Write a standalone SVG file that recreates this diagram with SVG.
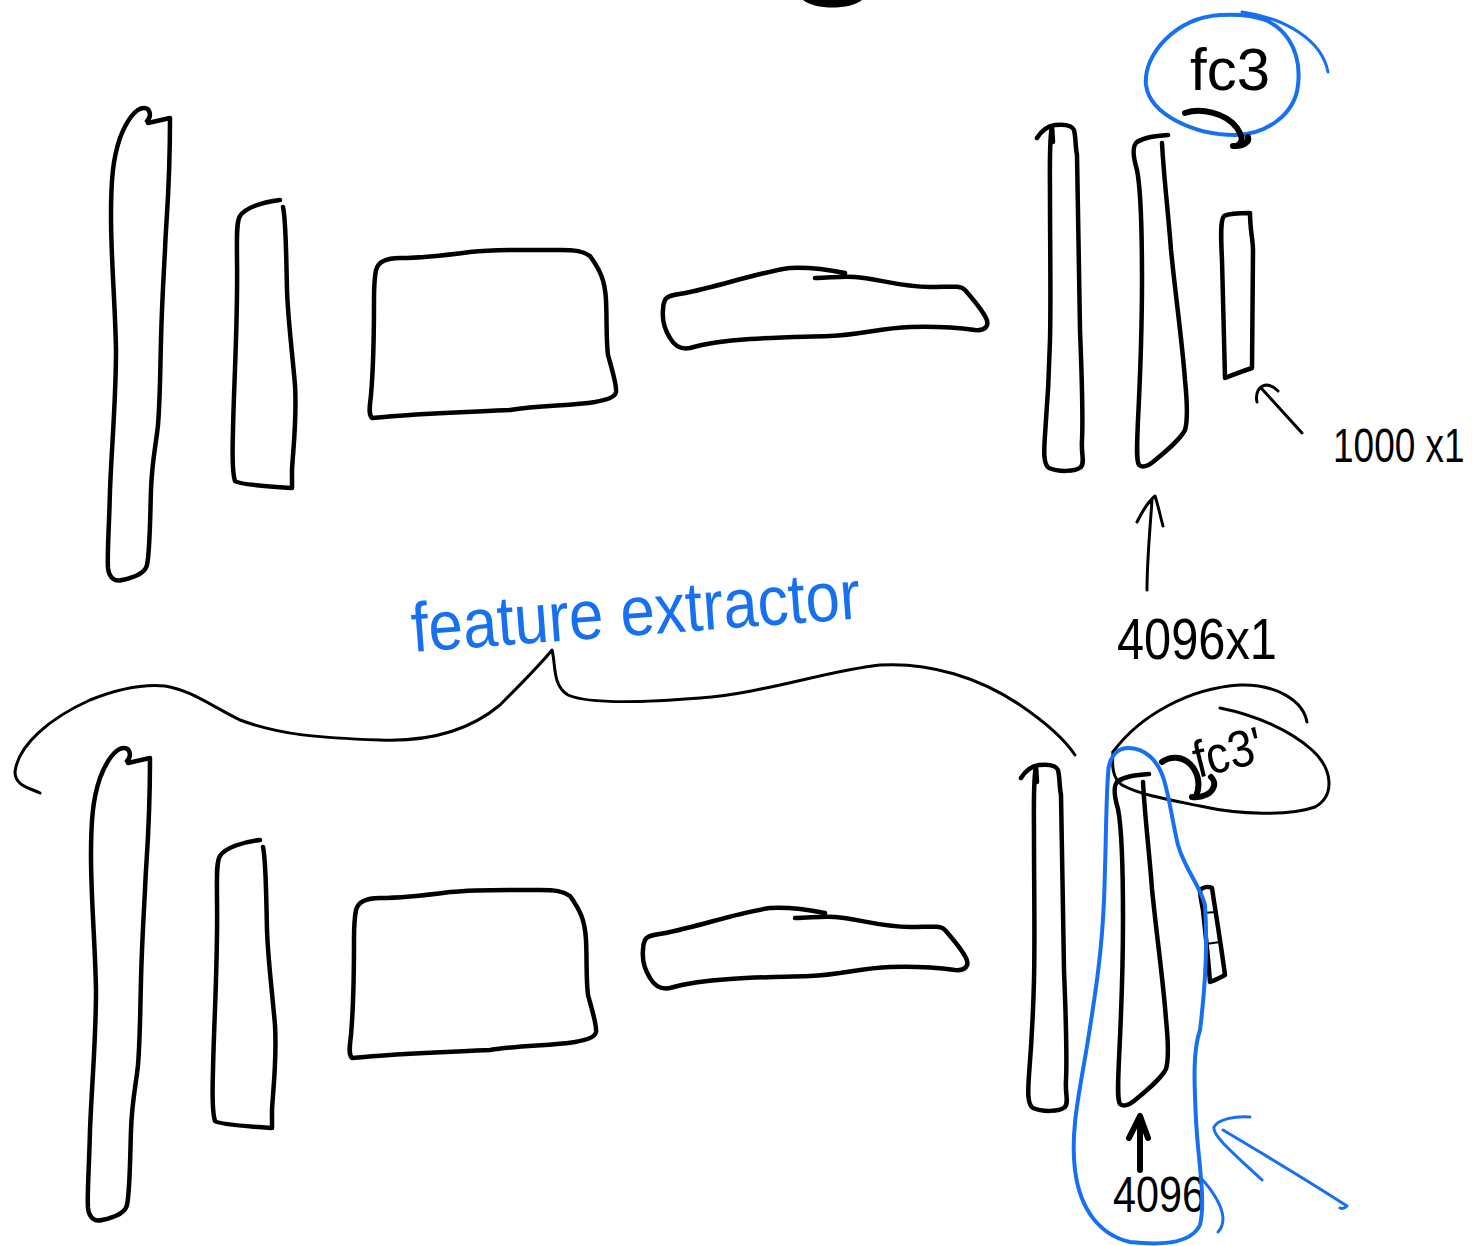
<svg xmlns="http://www.w3.org/2000/svg" width="1474" height="1246" viewBox="0 0 1474 1246">
<style>
.ink{fill:none;stroke:#000;stroke-width:4.5;stroke-linecap:round;stroke-linejoin:round}
.thin{fill:none;stroke:#000;stroke-width:3;stroke-linecap:round;stroke-linejoin:round}
.heavy{fill:none;stroke:#000;stroke-width:6;stroke-linecap:round;stroke-linejoin:round}
.blue{fill:none;stroke:#1670f0;stroke-width:3;stroke-linecap:round;stroke-linejoin:round}
.blueh{fill:none;stroke:#1670f0;stroke-width:4;stroke-linecap:round;stroke-linejoin:round}
.lbl{font-family:"Liberation Sans",Arial,sans-serif;fill:#000}
.blbl{font-family:"Liberation Sans",Arial,sans-serif;fill:#1670f0}
</style>
<rect width="1474" height="1246" fill="#fff"/>
<path d="M 803,0 C 815,10 850,10 862,0 Z" fill="#000"/>

<g id="top-row">
  <g id="t-block1"><path class="ink" d="M 147,121 C 152,116 150,108 144,108 C 135,108 126,122 120,138 C 113,158 111,180 111,215 C 111,260 115,300 116,350 C 116,400 112,440 110,490 C 109,530 107,555 108,568 C 109,578 115,582 122,580 C 132,578 145,574 147,565 C 150,550 150,520 151,490 C 152,460 156,445 158,425 C 160,400 160,380 161,340 C 162,300 164,270 165,250 C 166,220 170,190 170,118 L 148,123"/></g>
  <g id="t-block2"><path class="ink" d="M 280,200 C 262,202 245,208 240,216 C 236,222 237,240 237,260 C 238,320 234,380 233,430 C 232,460 233,475 235,481 C 238,484 260,486 291,488 M 283,207 C 286,220 286,250 287,290 C 288,320 292,350 295,385 C 297,420 293,450 292,470 L 292,488"/></g>
  <g id="t-block3"><path class="ink" d="M 376,270 C 378,262 385,258 400,258 C 420,258 440,256 470,252 C 500,249 540,250 560,250 C 575,250 583,251 590,256 C 600,270 605,280 606,300 C 607,320 606,340 608,355 C 612,370 617,385 616,392 C 615,398 605,400 595,402 C 570,406 540,405 510,410 C 470,412 420,413 372,418 C 368,414 370,405 371,395 C 374,360 374,330 374,300 C 374,285 375,275 376,270 Z"/></g>
  <g id="t-block4"><path class="ink" d="M 665,300 C 668,294 678,295 690,292 C 720,286 760,272 790,268 C 810,267 830,270 845,273 M 815,278 C 830,278 840,276 855,277 C 875,278 900,287 930,287 C 950,287 960,285 965,290 C 972,298 982,310 986,318 C 990,326 985,331 975,330 C 960,328 940,326 910,327 C 880,328 860,335 830,336 C 800,337 780,337 750,339 C 720,341 700,345 690,348 C 680,350 674,345 670,338 C 665,330 662,320 663,310 C 663,305 664,302 665,300"/></g>
  <g id="t-block5"><path class="ink" d="M 1037,138 C 1042,130 1048,126 1055,125 C 1065,124 1072,125 1074,130 C 1076,138 1075,145 1077,155 C 1078,200 1079,280 1080,330 C 1082,380 1083,420 1082,440 C 1081,455 1085,462 1081,467 C 1075,472 1058,472 1049,468 C 1043,464 1044,450 1045,435 C 1047,410 1049,380 1050,340 C 1051,300 1050,240 1050,200 C 1050,170 1049,140 1052,126 L 1053,142"/></g>
  <g id="t-block6"><path class="ink" d="M 1168,135 C 1155,136 1145,137 1137,142 C 1131,147 1134,160 1137,170 C 1141,190 1142,230 1142,280 C 1142,330 1140,380 1138,420 C 1137,445 1136,460 1139,465 C 1142,468 1148,466 1153,462 C 1165,452 1180,440 1185,430 C 1188,420 1187,400 1185,380 C 1182,340 1176,300 1171,250 C 1168,210 1164,180 1162,143"/></g>
  <g id="t-block7"><path class="ink" d="M 1250,213 C 1240,213 1230,213 1224,216 C 1220,220 1221,240 1222,260 C 1223,300 1224,340 1225,378 C 1230,376 1240,372 1252,368 L 1253,250 C 1253,240 1250,230 1250,213"/></g>
  <g id="t-fc3">
    <path class="blueh" d="M 1250,15 C 1285,22 1302,50 1298,85 C 1295,115 1265,135 1235,135 C 1195,135 1150,115 1146,85 C 1143,55 1175,18 1220,15 C 1240,14 1255,16 1265,20"/>
    <path class="blue" d="M 1242,12 C 1285,18 1322,40 1328,72"/>
    <text class="lbl" x="1190" y="90" font-size="60" textLength="80" lengthAdjust="spacingAndGlyphs">fc3</text>
    <path class="heavy" d="M 1185,113 C 1200,108 1225,112 1237,128 C 1242,136 1244,141 1238,145 M 1233,146 C 1242,146 1250,143 1248,137"/>
  </g>
  <g id="t-1000">
    <path class="thin" d="M 1302,433 L 1262,389 M 1257,402 C 1255,393 1259,386 1266,385 C 1270,385 1274,387 1278,391"/>
    <text class="lbl" x="0" y="0" font-size="37" transform="translate(1333,462) scale(1,1.3)">1000 x1</text>
  </g>
  <g id="t-4096">
    <path class="thin" d="M 1147,590 C 1147,560 1150,530 1152,500 M 1137,522 C 1143,510 1150,500 1155,496 C 1158,505 1160,515 1163,526"/>
    <text class="lbl" x="1117" y="659" font-size="58" textLength="160" lengthAdjust="spacingAndGlyphs">4096x1</text>
  </g>
</g>

<g id="bottom-row">
  <g id="b-block1" transform="translate(-20,640)"><path class="ink" d="M 147,121 C 152,116 150,108 144,108 C 135,108 126,122 120,138 C 113,158 111,180 111,215 C 111,260 115,300 116,350 C 116,400 112,440 110,490 C 109,530 107,555 108,568 C 109,578 115,582 122,580 C 132,578 145,574 147,565 C 150,550 150,520 151,490 C 152,460 156,445 158,425 C 160,400 160,380 161,340 C 162,300 164,270 165,250 C 166,220 170,190 170,118 L 148,123"/></g>
  <g id="b-block2" transform="translate(-20,640)"><path class="ink" d="M 280,200 C 262,202 245,208 240,216 C 236,222 237,240 237,260 C 238,320 234,380 233,430 C 232,460 233,475 235,481 C 238,484 260,486 291,488 M 283,207 C 286,220 286,250 287,290 C 288,320 292,350 295,385 C 297,420 293,450 292,470 L 292,488"/></g>
  <g id="b-block3" transform="translate(-20,640)"><path class="ink" d="M 376,270 C 378,262 385,258 400,258 C 420,258 440,256 470,252 C 500,249 540,250 560,250 C 575,250 583,251 590,256 C 600,270 605,280 606,300 C 607,320 606,340 608,355 C 612,370 617,385 616,392 C 615,398 605,400 595,402 C 570,406 540,405 510,410 C 470,412 420,413 372,418 C 368,414 370,405 371,395 C 374,360 374,330 374,300 C 374,285 375,275 376,270 Z"/></g>
  <g id="b-block4" transform="translate(-20,640)"><path class="ink" d="M 665,300 C 668,294 678,295 690,292 C 720,286 760,272 790,268 C 810,267 830,270 845,273 M 815,278 C 830,278 840,276 855,277 C 875,278 900,287 930,287 C 950,287 960,285 965,290 C 972,298 982,310 986,318 C 990,326 985,331 975,330 C 960,328 940,326 910,327 C 880,328 860,335 830,336 C 800,337 780,337 750,339 C 720,341 700,345 690,348 C 680,350 674,345 670,338 C 665,330 662,320 663,310 C 663,305 664,302 665,300"/></g>
  <g id="b-block5" transform="translate(-16,640)"><path class="ink" d="M 1037,138 C 1042,130 1048,126 1055,125 C 1065,124 1072,125 1074,130 C 1076,138 1075,145 1077,155 C 1078,200 1079,280 1080,330 C 1082,380 1083,420 1082,440 C 1081,455 1085,462 1081,467 C 1075,472 1058,472 1049,468 C 1043,464 1044,450 1045,435 C 1047,410 1049,380 1050,340 C 1051,300 1050,240 1050,200 C 1050,170 1049,140 1052,126 L 1053,142"/></g>
  <g id="b-block6" transform="translate(-19,639)"><path class="ink" d="M 1168,135 C 1155,136 1145,137 1137,142 C 1131,147 1134,160 1137,170 C 1141,190 1142,230 1142,280 C 1142,330 1140,380 1138,420 C 1137,445 1136,460 1139,465 C 1142,468 1148,466 1153,462 C 1165,452 1180,440 1185,430 C 1188,420 1187,400 1185,380 C 1182,340 1176,300 1171,250 C 1168,210 1164,180 1162,143"/></g>
  <g id="b-block7"><path class="ink" d="M 1200,890 C 1203,887 1208,886 1212,888 C 1216,915 1221,945 1225,975 C 1220,978 1215,980 1210,982 C 1208,955 1205,930 1203,910 C 1201,900 1200,895 1200,890 Z"/><path class="thin" style="stroke-width:2" d="M 1203,913 L 1216,912 M 1206,944 L 1220,942"/></g>
  <g id="b-fc3">
    <path class="thin" d="M 1113,752 C 1140,715 1190,688 1240,685 C 1275,684 1303,700 1307,722"/>
    <path class="thin" d="M 1220,708 C 1255,715 1290,730 1312,750 C 1332,768 1336,795 1315,807 C 1290,816 1240,815 1200,806 C 1170,800 1140,795 1122,785 C 1112,778 1112,765 1113,752"/>
    <text class="lbl" x="1198" y="778" font-size="52" textLength="70" lengthAdjust="spacingAndGlyphs" transform="rotate(-14 1198 778)">fc3'</text>
    <path class="heavy" d="M 1162,762 C 1170,756 1182,756 1190,764 C 1198,772 1201,785 1196,796 M 1192,797 C 1202,798 1212,794 1214,786 C 1215,781 1213,779 1211,777"/>
  </g>
  <g id="b-4096">
    <path class="heavy" d="M 1140,1170 L 1140,1122 M 1129,1138 L 1140,1116 L 1148,1138"/>
    <text class="lbl" x="1113" y="1212" font-size="50" textLength="92" lengthAdjust="spacingAndGlyphs">4096</text>
  </g>
  <g id="b-highlight">
    <path class="blueh" d="M 1108,775 C 1108,760 1115,748 1128,748 C 1145,748 1158,760 1164,780 C 1170,800 1172,820 1178,845 C 1185,870 1200,885 1205,905 C 1208,950 1205,990 1200,1030 C 1193,1050 1194,1080 1196,1120 C 1198,1160 1206,1200 1200,1225 C 1192,1242 1165,1246 1130,1242 C 1100,1235 1080,1210 1075,1170 C 1070,1130 1080,1090 1088,1040 C 1096,990 1102,950 1104,900 C 1106,850 1106,800 1108,775 Z"/>
    <path class="blue" d="M 1200,1177 C 1212,1190 1222,1205 1223,1218 C 1223,1225 1220,1230 1218,1232"/>
    <path class="blue" d="M 1250,1117 C 1235,1116 1218,1119 1214,1127 C 1212,1135 1232,1152 1262,1180 M 1223,1130 C 1260,1152 1310,1182 1347,1206 C 1345,1208 1342,1209 1340,1208"/>
  </g>
</g>

<g id="feature-extractor">
  <text class="blbl" x="413" y="652" font-size="70" textLength="450" lengthAdjust="spacingAndGlyphs" transform="rotate(-4.3 413 652)">feature extractor</text>
</g>

<g id="connectors">
  <path class="thin" d="M 40,793 C 30,788 15,786 15,772 C 18,745 50,718 90,700 C 120,688 145,684 165,686 C 190,690 210,705 240,720 C 280,735 320,738 380,740 C 430,742 470,730 500,705 C 520,685 540,665 552,650 C 556,665 552,685 568,695 C 590,705 650,702 700,698 C 760,694 830,670 880,665 C 930,662 980,678 1020,705 C 1045,722 1065,740 1075,755"/>
</g>
</svg>
